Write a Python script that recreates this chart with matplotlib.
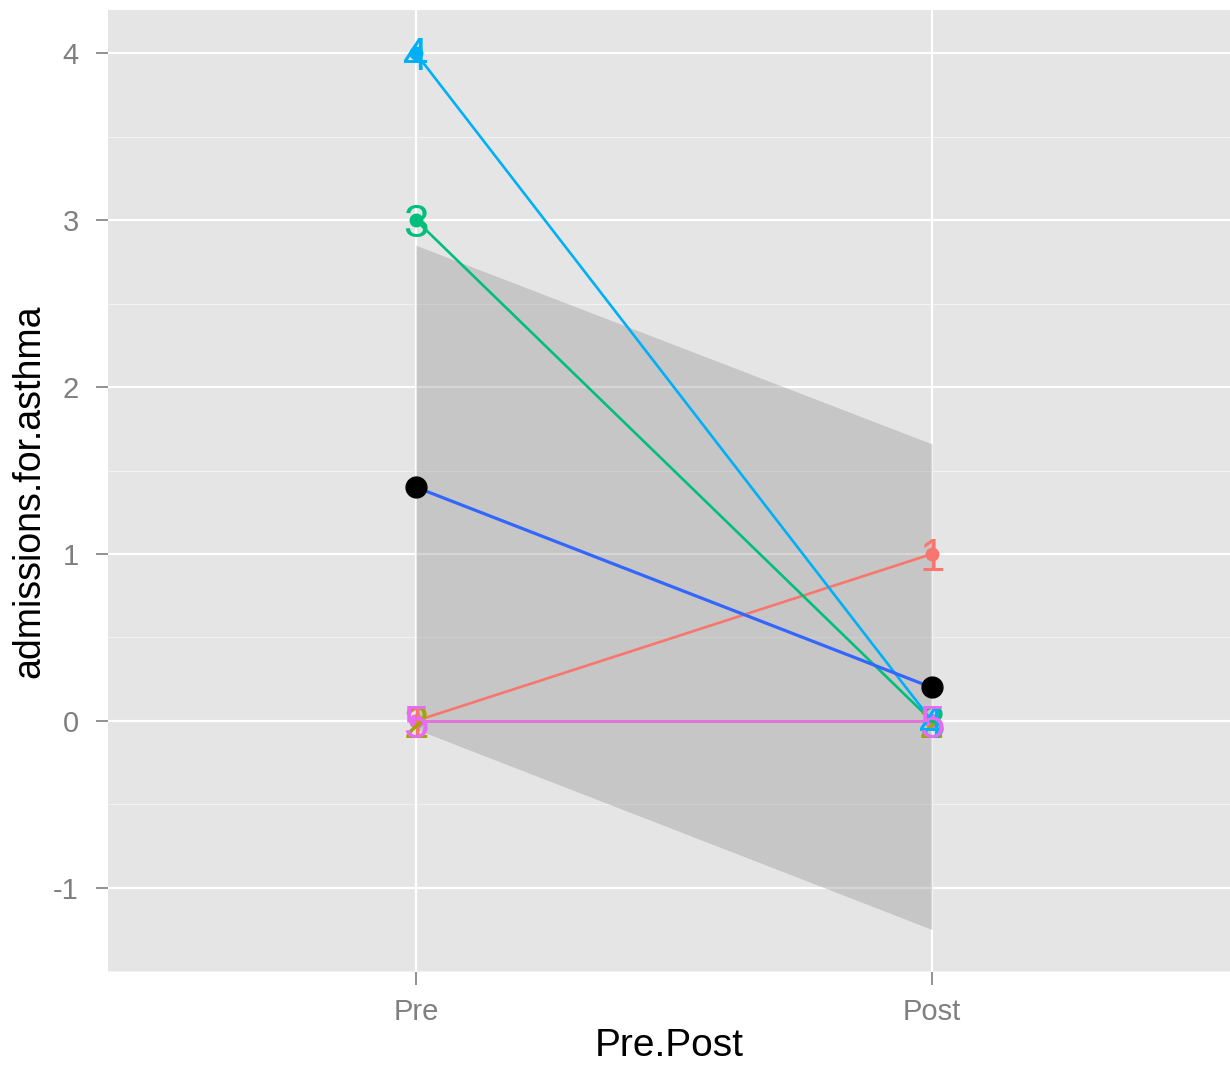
import matplotlib.pyplot as plt
import numpy as np

plt.rcParams['font.family'] = ['Liberation Sans', 'DejaVu Sans']

# data
phases = ["Pre", "Post"]
subjects = ["1", "2", "3", "4", "5"]
pre_vals = [0, 0, 3, 4, 0]
post_vals = [1, 0, 0, 0, 0]
colors = ["#F8766D", "#A3A500", "#00BF7D", "#00B0F6", "#E76BF3"]
mean_vals = [1.4, 0.2]
ribbon_lo = [-0.05, -1.25]
ribbon_hi = [2.85, 1.66]

x = np.arange(1, len(phases) + 1)

fig = plt.figure(figsize=(12.3, 10.7), dpi=100)
ax = fig.add_axes([108/1230, 98/1070, 1 - 108/1230, (972-10)/1070])
ax.set_facecolor("#E5E5E5")

ax.set_xlim(0.403, 2.578)
ax.set_ylim(-1.505, 4.26)

# grid
for yv in np.arange(-1.5, 4.5, 0.5):
    if yv == int(yv):
        ax.axhline(yv, color="white", lw=1.6, zorder=0)
    else:
        ax.axhline(yv, color="#F2F2F2", lw=0.8, zorder=0)
for xv in x:
    ax.axvline(xv, color="white", lw=1.6, zorder=0)

# smooth ribbon + mean line
ax.fill_between(x, ribbon_lo, ribbon_hi, color="#999999", alpha=0.4, lw=0, zorder=1)

for i, s in enumerate(subjects):
    ax.plot(x, [pre_vals[i], post_vals[i]], color=colors[i], lw=1.9, zorder=2)

ax.plot(x, mean_vals, color="#3366FF", lw=2.3, zorder=3)
ax.plot(x, mean_vals, "o", color="black", ms=15, zorder=4)

for i, s in enumerate(subjects):
    yy = [pre_vals[i], post_vals[i]]
    ax.plot(x, yy, "o", color=colors[i], ms=9, zorder=5)
    for xv, yv in zip(x, yy):
        ax.annotate(s, (xv, yv), xytext=(0, -12), textcoords="offset points",
                    color=colors[i], fontsize=33, ha="center", va="baseline",
                    zorder=6)

ax.set_xticks(x)
ax.set_xticklabels(phases)
ax.set_yticks([-1, 0, 1, 2, 3, 4])
ax.set_yticklabels(["-1", "0", "1", "2", "3", "4"])
ax.tick_params(colors="#7F7F7F", labelcolor="#7F7F7F", labelsize=21, length=9, width=1.2)
ax.tick_params(axis="x", pad=10)
ax.tick_params(axis="y", pad=12)
for sp in ax.spines.values():
    sp.set_visible(False)

ax.set_xlabel("Pre.Post", fontsize=28, labelpad=1)
ax.set_ylabel("admissions.for.asthma", fontsize=27, labelpad=4)

fig.savefig("out.png", dpi=100)
